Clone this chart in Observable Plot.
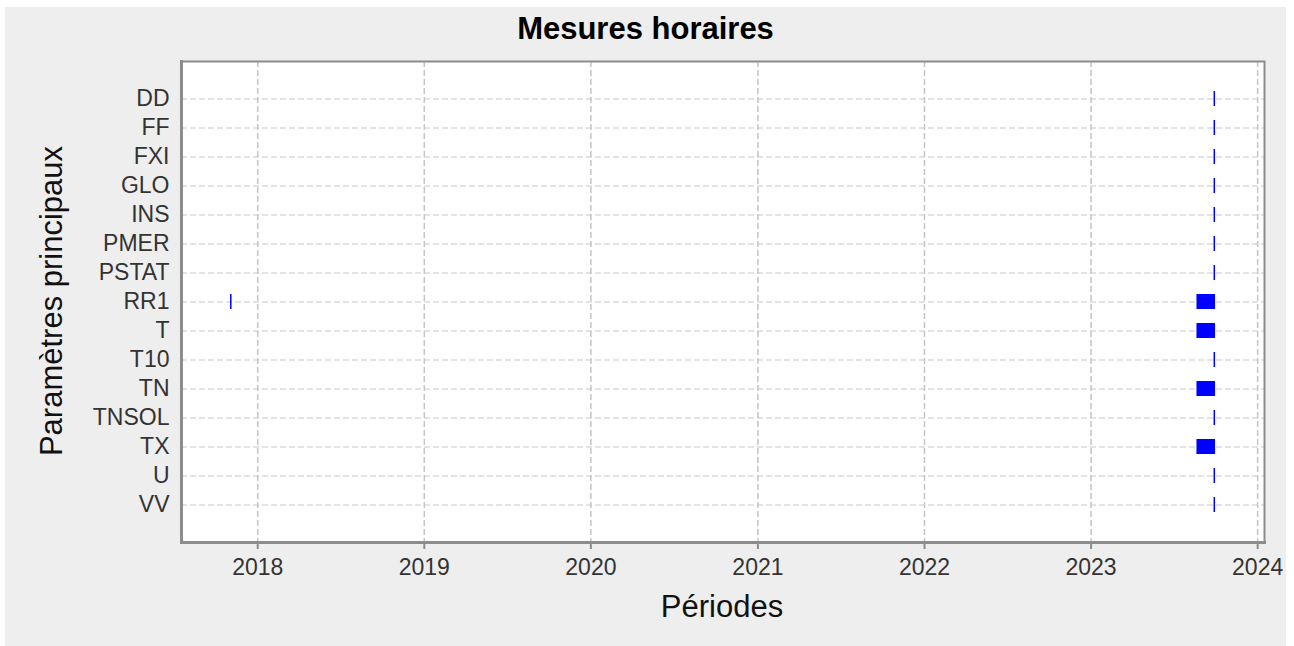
<!DOCTYPE html>
<html>
<head>
<meta charset="utf-8">
<script src="https://cdn.jsdelivr.net/npm/d3@7"></script>
<script src="https://cdn.jsdelivr.net/npm/@observablehq/plot@0.6"></script>
<style>
  html, body { margin: 0; padding: 0; background: #ffffff; }
  #panel { position: absolute; left: 5px; top: 7px; width: 1281px; height: 639px; background: #eeeeee; overflow: hidden; font-family: "Liberation Sans", Arial, sans-serif; }
  #panel svg { position: absolute; left: 0; top: 0; background: transparent; }
  .lbl { position: absolute; white-space: nowrap; line-height: 1; color: #111; }
  #title { left: 0; width: 1281px; top: 6px; text-align: center; font-weight: bold; font-size: 31px; color: #000; }
  #xlabel { left: 717px; top: 599px; transform: translate(-50%, -50%); font-size: 31px; }
  #ylabel { left: 46px; top: 294px; transform: translate(-50%, -50%) rotate(-90deg); font-size: 31px; }
</style>
</head>
<body>
<div id="panel">
  <div id="title" class="lbl">Mesures horaires</div>
  <div id="xlabel" class="lbl">Périodes</div>
  <div id="ylabel" class="lbl">Paramètres principaux</div>
</div>
<script>
// Parameters (y categories, top to bottom)
const parametres = ["DD", "FF", "FXI", "GLO", "INS", "PMER", "PSTAT", "RR1", "T", "T10", "TN", "TNSOL", "TX", "U", "VV"];

// Single-day measurements: parameter and date
const mesuresParam = ["DD", "FF", "FXI", "GLO", "INS", "PMER", "PSTAT", "RR1", "RR1", "T", "T10", "TN", "TNSOL", "TX", "U", "VV"];
const mesuresDate  = ["2023-09-28", "2023-09-28", "2023-09-28", "2023-09-28", "2023-09-28", "2023-09-28", "2023-09-28", "2017-11-03", "2023-09-28", "2023-09-28", "2023-09-28", "2023-09-28", "2023-09-28", "2023-09-28", "2023-09-28", "2023-09-28"];

// Continuous periods: parameter, start, end
const periodesParam = ["RR1", "T", "TN", "TX"];
const periodesDebut = ["2023-08-21", "2023-08-21", "2023-08-21", "2023-08-21"];
const periodesFin   = ["2023-09-29", "2023-09-29", "2023-09-29", "2023-09-29"];

// X axis domain and ticks
const xDomain = ["2017-07-18", "2024-01-16"];
const xTicks = ["2018-01-01", "2019-01-01", "2020-01-01", "2021-01-01", "2022-01-01", "2023-01-01", "2024-01-01"];

const parse = d3.utcParse("%Y-%m-%d");
const mesures = mesuresParam.map((p, i) => ({param: p, date: parse(mesuresDate[i])}));
const periodes = periodesParam.map((p, i) => ({param: p, debut: parse(periodesDebut[i]), fin: parse(periodesFin[i])}));
const ticks = xTicks.map(parse);

const chart = Plot.plot({
  width: 1281,
  height: 639,
  marginLeft: 176,
  marginTop: 54,
  marginRight: 22,
  marginBottom: 104,
  style: {background: "transparent", fontFamily: "'Liberation Sans', Arial, sans-serif", overflow: "visible"},
  x: {type: "utc", domain: xDomain.map(parse)},
  y: {type: "band", domain: parametres, paddingInner: 0.488, paddingOuter: 0.954},
  marks: [
    Plot.frame({fill: "#ffffff", stroke: "none"}),
    Plot.gridX(ticks, {stroke: "#c4c4c4", strokeOpacity: 1, strokeWidth: 1.5, strokeDasharray: "6,3"}),
    Plot.gridY({stroke: "#c8c8c8", strokeOpacity: 1, strokeWidth: 1.2, strokeDasharray: "6,3"}),
    Plot.rect(periodes, {x1: "debut", x2: "fin", y: "param", fill: "#0000ff"}),
    Plot.tickX(mesures, {x: "date", y: "param", stroke: "#0000ff", strokeWidth: 1.5}),
    Plot.frame({stroke: "#8c8c8c", strokeWidth: 2}),
    Plot.frame({anchor: "bottom", stroke: "#8c8c8c", strokeWidth: 3}),
    Plot.frame({anchor: "left", stroke: "#8c8c8c", strokeWidth: 3}),
    Plot.axisX(ticks, {tickFormat: d3.utcFormat("%Y"), tickSize: 7, tickPadding: 9, fontSize: 23, stroke: "#8c8c8c", strokeWidth: 2, color: "#333", label: null}),
    Plot.axisY({tickSize: 0, tickPadding: 12, fontSize: 23, color: "#333", label: null})
  ]
});
document.getElementById("panel").prepend(chart);
</script>
</body>
</html>
